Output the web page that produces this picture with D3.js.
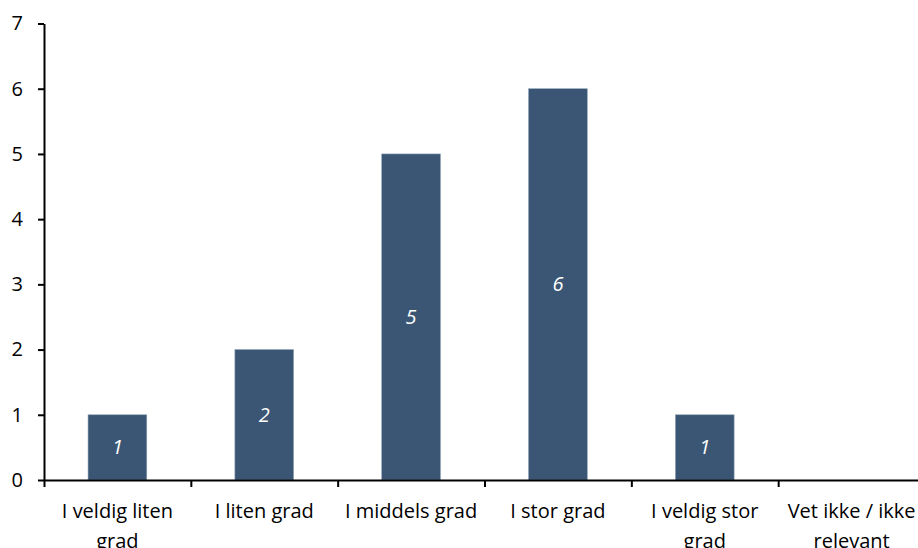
<!DOCTYPE html>
<html>
<head>
  <title>Bar chart</title>
</head>
<style>
  body {
    margin: 0;
    background: #fff;
  }
  text {
    font-family: "Open Sans", Lato, sans-serif;
  }
</style>
<body>
  <script src="https://d3js.org/d3.v7.min.js"></script>
  <script>
    const categories = [
      ["I veldig liten", "grad"],
      ["I liten grad"],
      ["I middels grad"],
      ["I stor grad"],
      ["I veldig stor", "grad"],
      ["Vet ikke / ikke", "relevant"]
    ];
    const values = [1, 2, 5, 6, 1, 0];
    const yTicks = [0, 1, 2, 3, 4, 5, 6, 7];

    const w = 918;
    const h = 548;
    const fs = 20;

    const svg = d3.select("body")
                  .append("svg")
                  .attr("width", w)
                  .attr("height", h)

    const x = d3.scaleBand()
                .domain(d3.range(categories.length))
                .range([44, 925])
                .paddingInner(0.6)
                .paddingOuter(0.3)

    // band edges for the category tick marks
    const xEdge = d3.scaleLinear()
                    .domain([0, categories.length])
                    .range([44, 925])

    const y = d3.scaleLinear()
                .domain([0, 7])
                .range([480, 23.5])

    const shown = values.map((d, i) => ({v: d, i: i})).filter(d => d.v > 0)

    //bars
    svg.selectAll("rect")
       .data(shown)
       .join("rect")
       .attr("x", d => x(d.i))
       .attr("y", d => y(d.v))
       .attr("width", x.bandwidth())
       .attr("height", d => y(0) - y(d.v))
       .attr("fill", "#3a5674")
       .attr("stroke", "#8fa3b8")
       .attr("stroke-width", 0.6)

    //labels inside bars
    svg.selectAll(".val")
       .data(shown)
       .join("text")
       .attr("class", "val")
       .attr("x", d => x(d.i) + x.bandwidth() / 2)
       .attr("y", d => (y(d.v) + y(0)) / 2)
       .attr("dy", "0.35em")
       .attr("text-anchor", "middle")
       .attr("fill", "#fff")
       .attr("font-style", "italic")
       .attr("font-size", fs)
       .text(d => d.v)

    //y axis
    const yAxis = svg.append("g")
       .attr("transform", "translate(44,0)")
       .call(d3.axisLeft(y).tickValues(yTicks).tickFormat(d3.format("d")).tickSize(6).tickPadding(15).tickSizeOuter(0))
    yAxis.select(".domain").attr("stroke", "#000").attr("stroke-width", 2)
    yAxis.selectAll(".tick line").attr("stroke", "#000").attr("stroke-width", 2)
    yAxis.selectAll(".tick text")
         .attr("font-size", fs)
         .attr("fill", "#000")
         .style("font-family", "'Open Sans', sans-serif")

    //x axis
    const xAxis = svg.append("g")
       .attr("transform", "translate(0," + y(0) + ")")
       .call(d3.axisBottom(xEdge).tickValues(d3.range(categories.length + 1)).tickSize(7).tickFormat("").tickSizeOuter(0))
    xAxis.select(".domain").attr("stroke", "#000").attr("stroke-width", 2)
    xAxis.selectAll(".tick line").attr("stroke", "#000").attr("stroke-width", 2)

    //category labels
    categories.forEach((lines, i) => {
      const cx = x(i) + x.bandwidth() / 2
      const t = svg.append("text")
         .attr("x", cx)
         .attr("y", 518)
         .attr("text-anchor", "middle")
         .attr("font-size", fs)
         .attr("fill", "#000")
      lines.forEach((ln, j) => {
        t.append("tspan")
         .attr("x", cx)
         .attr("dy", j === 0 ? 0 : 30)
         .text(ln)
      })
    })
  </script>
</body>
</html>
